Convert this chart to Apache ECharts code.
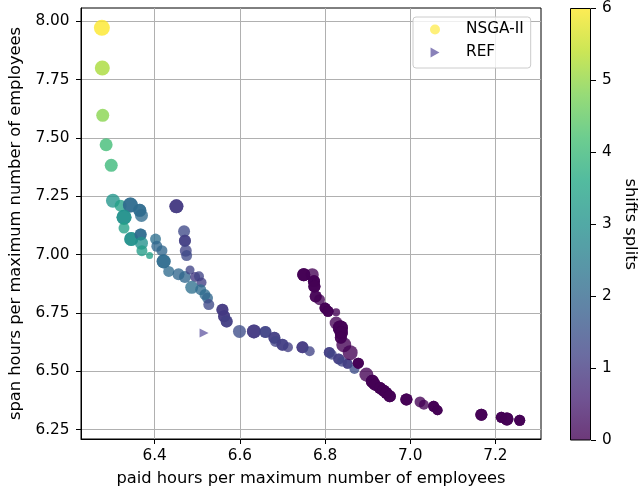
<!DOCTYPE html>
<html>
<head>
<meta charset="utf-8">
<script src="https://cdn.jsdelivr.net/npm/echarts@6/dist/echarts.min.js"></script>
<style>html,body{margin:0;padding:0;background:#fff}#c{width:641px;height:492px}</style>
</head>
<body>
<div id="c"></div>
<script>
// paid hours per maximum number of employees
const paid = [6.276,6.277,6.278,6.286,6.298,6.302,6.320,6.343,6.365,6.369,6.328,6.328,6.451,6.469,6.471,6.473,6.475,
6.345,6.367,6.369,6.370,6.388,6.402,6.405,6.417,6.421,6.433,6.456,6.471,6.483,6.495,6.504,6.510,6.487,6.508,6.518,6.524,6.527,
6.559,6.563,6.569,6.599,6.633,6.660,6.681,6.684,6.700,6.713,6.747,6.764,6.810,6.816,6.832,6.840,6.853,6.869,
6.750,6.770,6.774,6.775,6.778,6.787,6.800,6.807,6.826,6.826,6.836,6.838,6.837,6.844,6.859,6.878,6.897,6.911,6.917,6.929,6.937,6.944,6.952,6.991,7.023,7.032,7.055,7.064,7.167,7.214,7.227,7.257];
// span hours per maximum number of employees
const span = [7.972,7.800,7.597,7.471,7.383,7.231,7.210,7.213,7.190,7.168,7.160,7.114,7.207,7.100,7.060,7.017,6.996,
7.067,7.086,7.049,7.017,6.996,7.067,7.036,7.017,6.971,6.928,6.916,6.904,6.934,6.904,6.907,6.881,6.860,6.850,6.829,6.814,6.786,
6.764,6.736,6.714,6.671,6.671,6.669,6.644,6.628,6.614,6.603,6.603,6.586,6.581,6.571,6.553,6.541,6.532,6.510,
6.914,6.914,6.886,6.864,6.821,6.807,6.771,6.757,6.753,6.707,6.686,6.664,6.644,6.614,6.580,6.535,6.486,6.457,6.443,6.429,6.418,6.407,6.393,6.379,6.369,6.357,6.350,6.333,6.314,6.303,6.296,6.290];
// shifts splits (colour)
const splits = [6,5.2,4.9,4.1,4.0,3.1,3.4,2.1,2.1,2.1,3.0,3.4,1.0,1.3,1.1,1.2,1.3,
3.0,2.1,3.0,3.3,3.4,2.2,2.0,2.0,2.1,2.1,2.0,2.0,1.2,1.0,1.2,1.1,2.2,2.1,2.1,2.0,1.3,
1.0,1.0,1.1,1.4,1.0,1.2,1.1,1.2,1.1,1.1,1.0,1.2,1.1,1.2,1.1,1.2,1.1,1.4,
0,0,0,0,0,0,0,0,0,0,0,0,0,0,0,0,0,0,0,0,0,0,0,0,0,0,0,0,0,0,0,0];
// marker size
const sizes = [16,15,13,13,13,14,12,15,13,13,15,11,14,12,12,12,11,
14,12,13,11,7,11,11,11,14,11,12,12,9,10,10,10,13,11,11,11,11,
12,12,12,13,14,12,12,11,12,10,12,10,11,10,11,10,10,10,
13,13,12,12,12,11,11,11,8,13,15,13,12,15,15,11,14,13,12,12,12,12,12,12,11,10,11,10,12,11,13,11];
// number of overlapping solutions at each point
const repeats = [1,1,1,1,1,1,1,2,2,1,2,1,2,1,2,1,1,
2,2,1,1,1,1,1,1,2,1,1,1,1,1,1,1,1,1,1,1,1,
2,2,2,1,2,2,2,1,2,1,2,1,2,1,2,1,2,1,
3,1,3,3,2,1,3,3,1,1,3,3,2,1,1,3,1,3,3,3,3,3,3,3,1,1,3,3,3,3,3,3];
const refPaid = [6.516];
const refSpan = [6.664];
const xTicks = [6.4,6.6,6.8,7.0,7.2];
const yTicks = [6.25,6.5,6.75,7.0,7.25,7.5,7.75,8.0];

const viridis = ['#440154','#482475','#414487','#355f8d','#2a788e','#21918c','#22a884','#44bf70','#7ad151','#bddf26','#fde725'];
const ALPHA = 0.78;
function rgba(hex,a){const n=parseInt(hex.slice(1),16);return `rgba(${n>>16},${(n>>8)&255},${n&255},${a})`;}

const nsga = [];
for (let i=0;i<paid.length;i++){
  for (let k=0;k<repeats[i];k++) nsga.push([paid[i],span[i],splits[i],sizes[i]]);
}
const ref = refPaid.map((v,i)=>[v,refSpan[i]]);

const font = 'DejaVu Sans';
const TICK = 15.3, TITLE = 16.3;
const chart = echarts.init(document.getElementById('c'));
chart.setOption({
  animation:false,
  backgroundColor:'#fff',
  textStyle:{fontFamily:font,color:'#000'},
  grid:[
    {left:76.5,right:100,top:8,bottom:51.5,show:true,borderColor:'#000',borderWidth:1,backgroundColor:'transparent'},
    {left:570,width:21,top:8,bottom:51.5}
  ],
  xAxis:[
    {gridIndex:0,type:'value',min:6.227,max:7.307,
     name:'paid hours per maximum number of employees',nameLocation:'middle',nameGap:32,
     nameTextStyle:{fontSize:TITLE,color:'#000',fontFamily:font},
     axisLine:{show:true,onZero:false,lineStyle:{color:'#000'}},
     axisTick:{show:true,length:5,customValues:xTicks,lineStyle:{color:'#000'}},
     axisLabel:{customValues:xTicks,fontSize:TICK,color:'#000',margin:10,fontFamily:font,formatter:v=>Number(v).toFixed(1)},
     splitLine:{show:true,lineStyle:{color:'#b0b0b0',width:1}}},
    {gridIndex:1,type:'category',data:[''],axisLine:{show:false},axisTick:{show:false},axisLabel:{show:false},splitLine:{show:false}}
  ],
  yAxis:[
    {gridIndex:0,type:'value',min:6.21,max:8.057,
     name:'span hours per maximum number of employees',nameLocation:'middle',nameGap:57,nameRotate:90,
     nameTextStyle:{fontSize:TITLE,color:'#000',fontFamily:font},
     axisLine:{show:true,onZero:false,lineStyle:{color:'#000'}},
     axisTick:{show:true,length:5,customValues:yTicks,lineStyle:{color:'#000'}},
     axisLabel:{customValues:yTicks,fontSize:TICK,color:'#000',margin:11.5,fontFamily:font,formatter:v=>Number(v).toFixed(2)},
     splitLine:{show:true,lineStyle:{color:'#b0b0b0',width:1}}},
    {gridIndex:1,type:'value',min:0,max:6,interval:1,position:'right',
     name:'shifts splits',nameLocation:'middle',nameGap:31,nameRotate:-90,
     nameTextStyle:{fontSize:TITLE,color:'#000',fontFamily:font},
     axisLine:{show:false},
     axisTick:{show:true,length:5,lineStyle:{color:'#000'}},
     axisLabel:{fontSize:TICK,color:'#000',margin:11,fontFamily:font},
     splitLine:{show:false}}
  ],
  visualMap:{type:'continuous',show:false,min:0,max:6,dimension:2,seriesIndex:0,inRange:{color:viridis}},
  legend:{
    orient:'vertical',left:413,top:17,
    padding:[5,7,8,17],itemGap:8,itemWidth:10,itemHeight:10,
    borderColor:'#cccccc',borderWidth:1,borderRadius:3,backgroundColor:'rgba(255,255,255,0.8)',
    textStyle:{fontSize:TICK,color:'#000',fontFamily:font,padding:[0,0,0,21]},
    data:[
      {name:'NSGA-II',icon:'circle',itemStyle:{color:rgba('#fde725',ALPHA)}},
      {name:'REF',icon:'path://M1,0L9,4.5L1,9Z',itemStyle:{color:'#6c62a8'}}
    ]
  },
  series:[
    {name:'NSGA-II',type:'scatter',xAxisIndex:0,yAxisIndex:0,data:nsga,
     symbolSize:d=>d[3],itemStyle:{opacity:ALPHA},emphasis:{disabled:true}},
    {name:'REF',type:'scatter',xAxisIndex:0,yAxisIndex:0,data:ref,symbol:'triangle',symbolRotate:-90,symbolSize:9,
     itemStyle:{color:'#6c62a8'},emphasis:{disabled:true}},
    {name:'colorbar',type:'bar',xAxisIndex:1,yAxisIndex:1,data:[6],barWidth:'100%',silent:true,
     itemStyle:{borderColor:'#000',borderWidth:1,
       color:new echarts.graphic.LinearGradient(0,1,0,0,viridis.map((c,i)=>({offset:i/(viridis.length-1),color:rgba(c,ALPHA)})))}}
  ]
});
</script>
</body>
</html>
